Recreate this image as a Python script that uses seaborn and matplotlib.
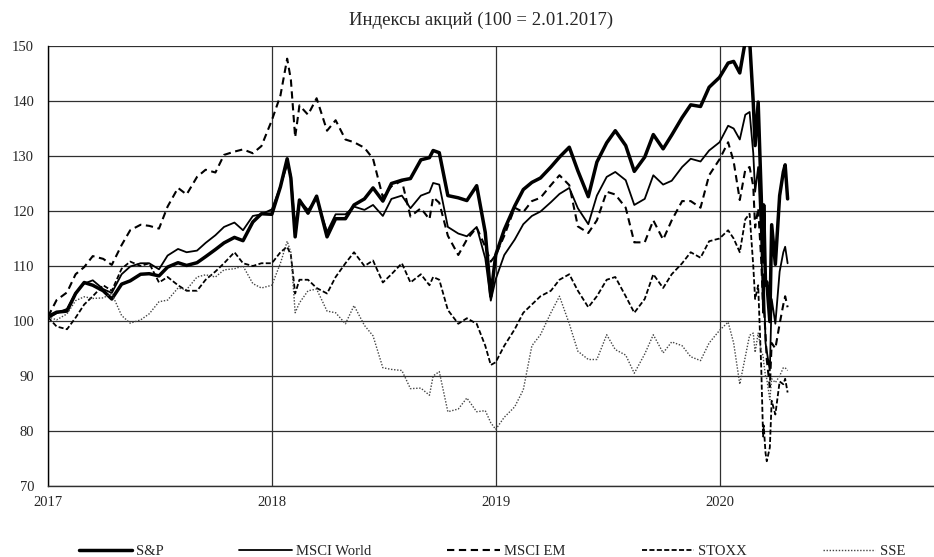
import pandas as pd
import seaborn as sns
import matplotlib.pyplot as plt
import matplotlib.dates as mdates

# dates: 1st and 15th of each month 2017-2019, plus a few extra days and 2020 crash days
base_dates = pd.date_range('2017-01-01', '2019-12-15', freq='SMS')
extra_2018 = ['2018-01-26', '2018-02-08', '2018-09-21', '2018-12-24']
dates_2020 = ['2020-01-01', '2020-01-15', '2020-01-24', '2020-02-03', '2020-02-12',
              '2020-02-19', '2020-02-25', '2020-02-28', '2020-03-04', '2020-03-09',
              '2020-03-12', '2020-03-13', '2020-03-16', '2020-03-18', '2020-03-23',
              '2020-03-26', '2020-04-01', '2020-04-08', '2020-04-14', '2020-04-17',
              '2020-04-21']
dates = base_dates.union(pd.to_datetime(extra_2018 + dates_2020))

sp500 = ([100.8, 101.6, 101.8, 105.0, 107.0, 106.5, 105.5, 104.0, 106.7, 107.3, 108.5, 108.6,
          108.2, 109.8, 110.6, 110.1, 110.6, 111.7, 113.0, 114.2, 115.2, 114.6, 118.0, 119.5] +
         [119.4, 124.4, 129.5, 126.0, 115.3, 122.0, 119.6, 122.7, 115.3, 118.6, 118.6, 121.1, 122.2, 124.2,
          121.8, 125.0, 125.6, 125.9, 129.3, 129.7, 131.0, 130.6, 122.8, 122.4, 121.9, 124.6, 116.1, 104.5] +
         [112.0, 116.6, 120.9, 123.9, 125.2, 126.0, 128.0, 129.8, 131.6, 127.3, 122.6, 128.9,
          132.4, 134.6, 131.9, 127.2, 129.8, 133.9, 131.3, 133.8, 137.0, 139.3, 139.0, 142.5] +
         [144.3, 146.9, 147.2, 145.1, 150.9, 151.2, 139.7, 131.9, 139.8, 122.7, 110.8, 121.1,
          106.6, 107.1, 99.9, 117.5, 110.3, 122.8, 127.1, 128.4, 122.2])

msci_world = ([100.5, 101.4, 102.2, 105.1, 106.8, 107.4, 105.8, 105.1, 108.5, 109.9, 110.5, 110.5,
               109.4, 111.9, 113.1, 112.5, 112.8, 114.2, 115.6, 117.1, 117.9, 116.5, 119.1, 119.4] +
              [120.3, 124.5, 128.4, 126.5, 117.1, 121.9, 120.2, 122.2, 116.2, 119.4, 119.4, 120.8, 120.2, 121.1,
               119.1, 122.2, 122.8, 120.5, 122.8, 123.4, 125.1, 124.8, 117.1, 115.9, 115.4, 117.1, 111.4, 103.7] +
              [107.6, 112.0, 114.8, 117.6, 119.1, 119.9, 121.6, 123.1, 124.2, 120.5, 117.6, 122.8,
               126.2, 127.1, 125.6, 121.1, 122.2, 126.5, 124.8, 125.5, 128.0, 129.5, 129.0, 131.0] +
              [132.5, 135.5, 135.0, 133.0, 137.5, 138.0, 130.5, 123.5, 128.0, 114.5, 101.5, 108.5,
               96.0, 94.5, 91.0, 104.0, 99.5, 109.0, 112.5, 113.5, 110.5])

msci_em = ([100.8, 103.8, 105.2, 108.5, 109.8, 111.8, 111.3, 110.2, 113.8, 116.5, 117.5, 117.3,
            116.8, 120.8, 124.2, 123.0, 126.2, 127.5, 127.0, 130.2, 130.8, 131.2, 130.5, 131.8] +
           [136.5, 141.0, 147.7, 143.9, 133.4, 139.2, 137.5, 140.5, 134.6, 136.5, 133.0, 132.5, 131.5, 129.5,
            122.5, 124.5, 125.5, 119.0, 120.5, 118.5, 122.5, 121.5, 115.5, 112.0, 114.8, 117.0, 113.5, 110.8] +
           [112.0, 115.5, 120.6, 119.8, 121.8, 122.4, 124.7, 126.5, 124.7, 117.2, 116.0, 118.3,
            123.5, 123.0, 120.6, 114.3, 114.3, 118.3, 114.8, 118.3, 121.8, 121.8, 120.6, 126.5] +
           [129.4, 132.5, 129.0, 122.0, 127.5, 128.0, 124.5, 117.0, 120.5, 111.0, 102.5, 103.0,
            97.5, 93.0, 88.0, 96.0, 95.0, 99.5, 103.0, 104.5, 102.5])

stoxx = ([100.7, 99.0, 98.5, 100.6, 103.0, 104.5, 106.5, 105.5, 109.5, 110.8, 110.0, 110.5,
          107.0, 108.0, 106.5, 105.5, 105.5, 107.5, 109.0, 110.5, 112.5, 110.5, 110.0, 110.5] +
         [110.5, 112.5, 113.5, 112.0, 105.0, 107.5, 107.5, 106.0, 105.0, 108.0, 110.5, 112.5, 110.0, 111.0,
          107.0, 108.5, 110.5, 107.0, 108.5, 106.5, 108.0, 107.5, 102.0, 99.5, 100.5, 99.5, 95.5, 92.0] +
         [92.5, 95.5, 98.5, 101.5, 103.0, 104.5, 105.5, 107.5, 108.5, 105.5, 102.5, 104.5,
          107.5, 108.0, 104.5, 101.5, 104.0, 108.5, 106.0, 108.5, 110.5, 112.5, 111.5, 114.5] +
         [115.0, 116.5, 115.0, 112.5, 118.5, 119.5, 110.0, 104.0, 106.5, 91.5, 79.0, 81.0,
          76.0, 74.5, 77.0, 85.5, 83.0, 89.0, 88.5, 89.5, 87.0])

sse = ([100.8, 100.2, 101.3, 103.7, 104.4, 104.1, 104.2, 105.0, 101.0, 99.6, 100.2, 101.3,
        103.5, 103.8, 106.0, 105.7, 108.0, 108.4, 108.0, 109.3, 109.5, 110.0, 106.8, 106.0] +
       [106.5, 110.5, 114.5, 112.5, 101.5, 103.3, 105.5, 105.8, 101.8, 101.5, 99.5, 102.8, 99.2, 97.3,
        91.5, 91.2, 91.0, 87.7, 87.8, 86.5, 90.0, 90.8, 83.5, 84.0, 86.0, 83.5, 83.7, 81.5] +
       [80.3, 82.5, 84.4, 87.5, 95.5, 97.5, 101.5, 104.5, 99.5, 94.5, 93.0, 93.0,
        97.5, 94.8, 93.8, 90.5, 94.0, 97.5, 94.2, 96.2, 95.5, 93.5, 92.8, 96.0] +
       [98.3, 99.8, 96.0, 88.5, 93.5, 97.4, 97.8, 94.3, 97.8, 94.5, 93.7, 92.5,
        90.0, 89.5, 85.7, 89.5, 88.8, 90.0, 91.5, 91.5, 91.0])

names = ['S&P', 'MSCI World', 'MSCI EM', 'STOXX', 'SSE']
series = [sp500, msci_world, msci_em, stoxx, sse]
styles = {
    'S&P': dict(color='black', lw=2.5, dashes=None),
    'MSCI World': dict(color='black', lw=1.3, dashes=None),
    'MSCI EM': dict(color='black', lw=1.5, dashes=(3.5, 2.2)),
    'STOXX': dict(color='black', lw=1.3, dashes=(2.8, 1.3)),
    'SSE': dict(color='#444444', lw=1.0, dashes=(1.0, 1.2)),
}

df = pd.DataFrame({'date': dates})
for name, vals in zip(names, series):
    df[name] = vals

sns.set_style('white')
plt.rcParams['font.family'] = ['Liberation Serif', 'DejaVu Serif']

fig = plt.figure(figsize=(9.34, 5.57), dpi=100)
ax = fig.add_axes([48 / 934, 1 - 486 / 557, 896 / 934, 440 / 557])

handles = []
for name in names:
    st = styles[name]
    sns.lineplot(data=df, x='date', y=name, ax=ax, color=st['color'], linewidth=st['lw'])
    line = ax.lines[-1]
    if st['dashes'] is not None:
        line.set_dashes(st['dashes'])
    handles.append(line)

ax.set_xlim(pd.Timestamp('2017-01-01'), pd.Timestamp('2021-01-01'))
ax.set_ylim(70, 150)
ax.set_yticks(range(70, 151, 10))
ax.set_xticks(pd.to_datetime(['2017-01-01', '2018-01-01', '2019-01-01', '2020-01-01']))
ax.xaxis.set_major_formatter(mdates.DateFormatter('%Y'))
ax.set_xlabel('')
ax.set_ylabel('')
ax.tick_params(axis='both', length=0, labelsize=10.5)
ax.tick_params(axis='y', pad=10)
ax.tick_params(axis='x', pad=7)
ax.grid(True, color='#303030', linewidth=0.9)
ax.set_axisbelow(True)
for side in ['top', 'right']:
    ax.spines[side].set_visible(False)
ax.spines['left'].set_color('black')
ax.spines['left'].set_linewidth(1.0)
ax.spines['bottom'].set_color('#303030')
ax.spines['bottom'].set_linewidth(1.0)

fig.text(481 / 934, 1 - 20 / 557, 'Индексы акций (100 = 2.01.2017)', ha='center', va='center', fontsize=13.5)

fig.legend(handles, names, loc='center left', bbox_to_anchor=(79 / 934, 1 - 551 / 557), ncol=5,
           frameon=False, fontsize=10.5, handlelength=3.6, handletextpad=0.3, columnspacing=5.2,
           borderpad=0, borderaxespad=0)

fig.savefig('out.png', dpi=100)
